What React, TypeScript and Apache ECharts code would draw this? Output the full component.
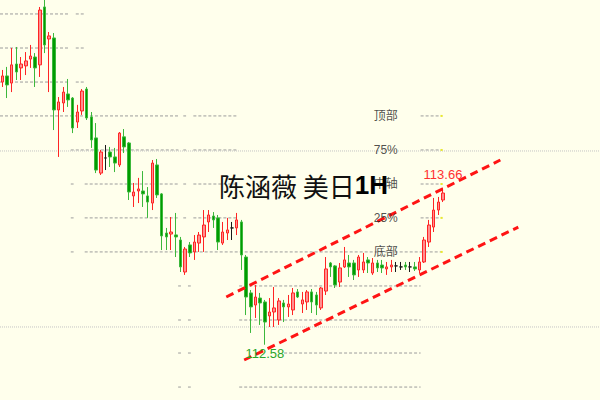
import React, { useEffect, useRef } from "react";
import * as echarts from "echarts";

// ---- candle values (USD/JPY 1H) ----
const opens = [
  114.386, 114.428, 114.379, 114.51, 114.483, 114.497, 114.544, 114.558, 114.504, 114.902,
  114.682, 114.689, 114.194, 114.242, 114.304, 114.276, 114.111, 114.187, 114.338, 114.146,
  114.002, 113.76, 113.864, 113.905, 113.871, 113.816, 114.009, 113.967, 113.603, 113.637,
  113.637, 113.603, 113.554, 113.816, 113.617, 113.348, 113.341, 113.335, 113.3, 113.08,
  113.266, 113.218, 113.279, 113.321, 113.424, 113.465, 113.452, 113.279, 113.348, 113.383,
  113.383, 113.424, 113.183, 112.936, 112.853, 112.901, 112.874, 112.778, 112.805, 112.75,
  112.867, 112.84, 112.819, 112.943, 112.86, 112.874, 112.943, 112.922, 112.833, 112.949,
  113.142, 113.122, 113.011, 113.115, 113.142, 113.142, 113.094, 113.094, 113.163, 113.073,
  113.142, 113.128, 113.101, 113.115, 113.122, 113.115, 113.128, 113.115, 113.115, 113.094,
  113.149, 113.286, 113.389, 113.506, 113.575,
];
const closes = [
  114.428, 114.366, 114.504, 114.455, 114.51, 114.531, 114.565, 114.483, 114.881, 114.641,
  114.703, 114.194, 114.249, 114.317, 114.263, 114.07, 114.18, 114.324, 114.139, 113.988,
  113.781, 113.905, 113.864, 113.871, 113.829, 114.035, 113.94, 113.63, 113.63, 113.651,
  113.617, 113.561, 113.829, 113.61, 113.328, 113.321, 113.355, 113.321, 113.115, 113.238,
  113.211, 113.286, 113.334, 113.403, 113.472, 113.438, 113.286, 113.355, 113.369, 113.383,
  113.438, 113.197, 112.908, 112.84, 112.908, 112.867, 112.736, 112.805, 112.833, 112.881,
  112.84, 112.86, 112.936, 112.908, 112.888, 112.943, 112.874, 112.853, 112.97, 113.101,
  113.115, 112.991, 113.108, 113.163, 113.115, 113.06, 113.183, 113.149, 113.142, 113.142,
  113.108, 113.108, 113.115, 113.128, 113.122, 113.115, 113.115, 113.115, 113.101, 113.149,
  113.3, 113.403, 113.506, 113.561, 113.623,
];
const lows = [
  114.352, 114.276, 114.317, 114.4, 114.4, 114.434, 114.483, 114.352, 114.421, 114.585,
  114.317, 114.056, 113.871, 114.18, 114.215, 114.035, 114.07, 114.16, 114.125, 113.933,
  113.76, 113.747, 113.781, 113.802, 113.767, 113.802, 113.898, 113.575, 113.527, 113.554,
  113.527, 113.452, 113.506, 113.589, 113.231, 113.231, 113.231, 113.183, 113.08, 113.06,
  113.183, 113.163, 113.218, 113.218, 113.355, 113.383, 113.231, 113.266, 113.3, 113.3,
  113.334, 113.094, 112.784, 112.661, 112.764, 112.716, 112.58, 112.702, 112.702, 112.716,
  112.736, 112.771, 112.784, 112.901, 112.798, 112.819, 112.798, 112.784, 112.819, 112.922,
  113.046, 112.97, 112.977, 113.108, 113.046, 113.025, 113.046, 113.073, 113.073, 113.06,
  113.08, 113.073, 113.06, 113.08, 113.08, 113.094, 113.094, 113.08, 113.087, 113.073,
  113.142, 113.252, 113.355, 113.472, 113.561,
];
const highs = [
  114.469, 114.49, 114.62, 114.627, 114.558, 114.592, 114.641, 114.585, 114.902, 114.95,
  114.73, 114.723, 114.283, 114.352, 114.407, 114.283, 114.229, 114.338, 114.352, 114.18,
  114.104, 113.919, 113.953, 113.94, 113.933, 114.042, 114.063, 113.974, 113.692, 113.727,
  113.774, 113.664, 113.85, 113.857, 113.623, 113.383, 113.458, 113.486, 113.321, 113.252,
  113.286, 113.334, 113.355, 113.506, 113.506, 113.492, 113.472, 113.424, 113.452, 113.424,
  113.486, 113.438, 113.197, 112.956, 112.991, 112.936, 112.888, 112.901, 112.977, 112.901,
  112.888, 112.922, 112.97, 112.963, 112.943, 112.956, 112.963, 112.943, 112.977, 113.183,
  113.149, 113.128, 113.142, 113.252, 113.197, 113.163, 113.197, 113.211, 113.183, 113.176,
  113.163, 113.163, 113.149, 113.163, 113.149, 113.149, 113.149, 113.149, 113.149, 113.183,
  113.321, 113.438, 113.589, 113.596, 113.66,
];
const slotCount = 128;
const categories = Array.from({ length: slotCount }, (_, i) => String(i));

// ---- horizontal level lines (price) and the bar ranges they cover ----
const levelPrices = [
  114.854, 114.62, 114.386, 114.153, 113.919, 113.685, 113.452, 113.218, 112.984, 112.75,
  112.523, 112.289,
];
const levelSpans = [
  [[-0.5, 14.38], [15.66, 17.36]],
  [[-0.5, 14.38], [15.66, 17.36]],
  [[-0.5, 14.38], [15.66, 17.36]],
  [[-0.5, 37.56], [38.6, 39.2], [40.75, 50.32], [89.23, 93.91]],
  [[14.6, 37.56], [38.6, 39.2], [40.75, 50.32], [89.23, 93.91]],
  [[14.6, 15.2], [17.57, 37.56], [38.6, 39.2], [40.75, 50.32], [89.23, 93.91]],
  [[14.6, 15.2], [17.57, 37.56], [38.6, 39.2], [40.75, 50.32], [89.23, 93.91]],
  [[14.6, 15.2], [17.57, 93.91]],
  [[37.5, 38.1], [39.6, 40.2], [50.53, 89.23]],
  [[37.5, 38.1], [39.6, 40.2], [50.53, 89.23]],
  [[37.5, 38.1], [39.6, 40.2], [60.1, 89.23]],
  [[37.5, 38.1], [39.6, 40.2], [50.53, 89.23]],
];
const levelNames = ["", "", "", "顶部", "75%", "中轴", "25%", "底部", "", "", "", ""];
const levelLabelBar = 81.8;
const levelMarkerBar = 93.7;
const faintLevels = [113.912, 112.702];

// ---- channel lines [bar, price] ----
const upperChannel = [
  [47.77, 112.908],
  [106.24, 113.85],
];
const lowerChannel = [
  [51.59, 112.475],
  [110.07, 113.389],
];

const highIndex = 94;
const lowIndex = 56;

export default function App() {
  const ref = useRef<HTMLDivElement>(null);

  useEffect(() => {
    if (!ref.current) return;
    const chart = echarts.init(ref.current, null, { renderer: "svg" });

    const candleData = opens.map((o, i) => [o, closes[i], lows[i], highs[i]]);

    const series: any[] = [];
    levelSpans.forEach((spans, li) => {
      spans.forEach((s) => {
        series.push({
          type: "line",
          xAxisIndex: 1,
          yAxisIndex: 0,
          silent: true,
          symbol: "none",
          data: [
            [s[0], levelPrices[li]],
            [s[1], levelPrices[li]],
          ],
          lineStyle: { color: "#9c9c9c", width: 1, type: [3, 2] },
          z: 1,
        });
      });
    });
    faintLevels.forEach((p) => {
      series.push({
        type: "line",
        xAxisIndex: 1,
        silent: true,
        symbol: "none",
        data: [
          [-0.5, p],
          [slotCount - 0.5, p],
        ],
        lineStyle: { color: "#c4c4c4", width: 1, type: [1, 1] },
        z: 1,
      });
    });

    series.push({
      type: "candlestick",
      xAxisIndex: 0,
      yAxisIndex: 0,
      data: candleData,
      barWidth: 3,
      itemStyle: {
        color: "#ff8f8f",
        color0: "#009c00",
        borderColor: "#ff2424",
        borderColor0: "#3cb83c",
        borderColorDoji: "#1a1a1a",
        borderWidth: 1,
      },
      markPoint: {
        symbol: "circle",
        symbolSize: 0,
        silent: true,
        data: [
          {
            coord: [categories[highIndex], highs[highIndex]],
            value: highs[highIndex],
            label: {
              show: true,
              position: "inside",
              offset: [0, -13],
              formatter: highs[highIndex].toFixed(2),
              color: "#ff3030",
              fontSize: 13,
              fontFamily: "Liberation Sans, Arial, sans-serif",
            },
          },
          {
            coord: [categories[lowIndex], lows[lowIndex]],
            value: lows[lowIndex],
            label: {
              show: true,
              position: "inside",
              offset: [0, 9],
              formatter: lows[lowIndex].toFixed(2),
              color: "#2aa52a",
              fontSize: 13,
              fontFamily: "Liberation Sans, Arial, sans-serif",
            },
          },
        ],
      },
      z: 3,
    });

    [upperChannel, lowerChannel].forEach((ch) => {
      series.push({
        type: "line",
        xAxisIndex: 1,
        silent: true,
        symbol: "none",
        data: ch,
        lineStyle: { color: "#ff1414", width: 3, type: [8, 5] },
        z: 4,
      });
    });

    series.push({
      type: "scatter",
      xAxisIndex: 1,
      silent: true,
      symbolSize: 0,
      data: levelNames
        .map((n, i) => [levelLabelBar, levelPrices[i], n])
        .filter((d) => d[2] !== ""),
      label: {
        show: true,
        position: "inside",
        formatter: (p: any) => p.value[2],
        color: "#222",
        fontSize: 12,
        fontFamily: "Liberation Sans, 'Noto Sans CJK SC', sans-serif",
      },
      z: 5,
    });
    series.push({
      type: "scatter",
      xAxisIndex: 1,
      silent: true,
      symbol: "rect",
      symbolSize: 2,
      itemStyle: { color: "#f5f500" },
      data: levelNames
        .map((n, i) => [levelMarkerBar, levelPrices[i], n])
        .filter((d) => d[2] !== ""),
      z: 5,
    });

    chart.setOption({
      animation: false,
      backgroundColor: "#ffffec",
      grid: { left: -2, right: 0, top: 0, bottom: 0 },
      xAxis: [
        { type: "category", data: categories, show: false, boundaryGap: true },
        { type: "value", min: -0.5, max: slotCount - 0.5, show: false },
      ],
      yAxis: { type: "value", min: 112.2, max: 114.95, show: false, splitLine: { show: false } },
      series,
      graphic: [
        {
          type: "text",
          x: 219,
          y: 185,
          z: 100,
          silent: true,
          style: {
            text: "{a|陈涵薇 美日}{b|1H}",
            verticalAlign: "middle",
            rich: {
              a: {
                fontFamily: "'Noto Sans CJK SC', sans-serif",
                fontSize: 26,
                fill: "#111",
                color: "#111",
              },
              b: {
                fontFamily: "'Liberation Sans', Arial, sans-serif",
                fontWeight: "bold",
                fontSize: 26,
                fill: "#000",
                color: "#000",
              },
            },
          },
        },
      ],
    });

    return () => chart.dispose();
  }, []);

  return (
    <div
      ref={ref}
      style={{ position: "absolute", left: 0, top: 0, width: 600, height: 400 }}
    />
  );
}
